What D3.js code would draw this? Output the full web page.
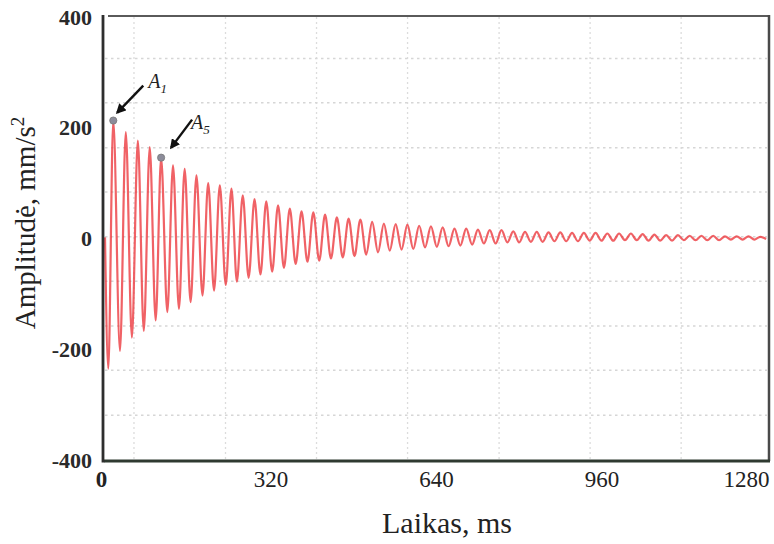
<!DOCTYPE html>
<html>
<head>
<meta charset="utf-8">
<script src="https://cdn.jsdelivr.net/npm/d3@7/dist/d3.min.js"></script>
<style>
  html, body { margin: 0; padding: 0; background: #fff; }
  svg { display: block; }
</style>
</head>
<body>
<svg id="chart" width="774" height="544"></svg>
<script>
// ---- data ----
const xTicks = [0, 320, 640, 960, 1280];
const xTickLabels = ["0", "320", "640", "960", "1280"];
const yTicks = [400, 200, 0, -200, -400];
const yTickLabels = ["400", "200", "0", "-200", "-400"];
const gridX = [56, 233, 409, 585, 762, 938, 1114];
const gridY = [325, 245, 164, 84, 3, -77, -158, -238, -319];

// time (ms) of each extremum of the decaying signal, and its amplitude (mm/s^2)
const sigTime = [0, 6.4, 16.0, 29.0, 40.2, 52.0, 63.5, 75.0, 86.5, 98.0, 108.5, 120.5, 131.5, 143.0, 154.0, 165.5, 176.8, 188.5, 199.5, 210.8, 222.0, 233.5, 244.5, 255.0,
  266.3, 277.7, 289.1, 300.5, 311.8, 323.2, 334.6, 346.0, 357.3, 368.7, 380.0, 391.4, 402.8, 414.2, 425.5, 436.9, 448.3, 459.7, 471.0, 482.4, 493.7, 505.1, 516.5, 527.9,
  539.2, 550.6, 562.0, 573.4, 584.7, 596.1, 607.4, 618.8, 630.2, 641.6, 652.9, 664.3, 675.7, 687.1, 698.4, 709.8, 721.1, 732.5, 743.9, 755.3, 766.6, 778.0,
  789.4, 800.8, 812.1, 823.5, 834.8, 846.2, 857.6, 869.0, 880.3, 891.7, 903.1, 914.5, 925.8, 937.2, 948.5, 959.9, 971.3, 982.7, 994.0, 1005.4, 1016.8, 1028.2,
  1039.5, 1050.9, 1062.2, 1073.6, 1085.0, 1096.4, 1107.7, 1119.1, 1130.5, 1141.9, 1153.2, 1164.6, 1175.9, 1187.3, 1198.7, 1210.1, 1221.4, 1232.8, 1244.2, 1255.6,
  1266.9, 1278.3];
const sigValue = [2, -235, 213, -203, 192, -179, 177, -167, 165, -148, 146, -133, 132, -127, 126, -115, 114, -103, 100, -94, 96, -84, 90, -78,
  78, -71, 71, -65, 67, -60, 60, -53, 54, -46, 49, -42, 47, -40, 43, -36, 38, -34, 36, -32, 34, -29, 30, -25,
  27, -22, 26, -20, 25, -19, 23, -16, 22, -15, 20, -14, 18, -13, 18, -11, 16, -9, 15, -9, 15, -7,
  13, -7, 12, -6, 12, -6, 11, -5, 11, -5, 10, -5, 10, -4, 10, -4, 9, -4, 9, -3, 9, -3,
  8, -4, 7, -4, 6, -4, 6, -3, 5, -3, 5, -3, 5, -3, 4, -2, 4, -2, 4, -2,
  3, -1];

const annotations = [
  { label: "A", sub: "1", index: 2, tail: [30, -35], tip: [4, -8], text: [35, -33] },
  { label: "A", sub: "5", index: 10, tail: [31, -38], tip: [10, -10], text: [30, -29] }
];

// ---- layout ----
const svg = d3.select("#chart");
const x = d3.scaleLinear().domain([0, 1280]).range([105, 767]);
const y = d3.scaleLinear().domain([-400, 400]).range([460, 17]);
const serif = "'Liberation Serif', 'Times New Roman', serif";

// defs: arrow head
svg.append("defs").append("marker")
  .attr("id", "arrow").attr("viewBox", "0 0 10 10")
  .attr("refX", 8).attr("refY", 5)
  .attr("markerWidth", 4.2).attr("markerHeight", 4.2)
  .attr("orient", "auto")
  .append("path").attr("d", "M0,0 L10,5 L0,10 Z").attr("fill", "#111");

// grid
const grid = svg.append("g");
grid.selectAll("line.gx").data(gridX).enter().append("line")
  .attr("x1", d => x(d)).attr("x2", d => x(d))
  .attr("y1", y(400)).attr("y2", y(-400))
  .attr("stroke", "#dcdcdc").attr("stroke-width", 1.3).attr("stroke-dasharray", "2,3");
grid.selectAll("line.gy").data(gridY).enter().append("line")
  .attr("x1", x(0)).attr("x2", x(1280))
  .attr("y1", d => y(d)).attr("y2", d => y(d))
  .attr("stroke", "#d6d6d6").attr("stroke-width", 1.5).attr("stroke-dasharray", "2.5,3.5");

// signal
const pts = sigTime.map((t, i) => [t, sigValue[i]]);
const line = d3.line().x(d => x(d[0])).y(d => y(d[1])).curve(d3.curveMonotoneX);
svg.append("path").datum(pts)
  .attr("d", line)
  .attr("fill", "none")
  .attr("stroke", "#ec3b40")
  .attr("stroke-opacity", 0.8)
  .attr("stroke-width", 2.2)
  .attr("stroke-linejoin", "round");

// frame
const fr = svg.append("g");
fr.append("line").attr("x1", x(0) + 3).attr("x2", x(1280) + 3).attr("y1", y(400) - 1).attr("y2", y(400) - 1)
  .attr("stroke", "#5a5a5a").attr("stroke-width", 2);
fr.append("line").attr("x1", x(1280) + 2).attr("x2", x(1280) + 2).attr("y1", y(400) - 2).attr("y2", y(-400) + 1)
  .attr("stroke", "#4a4a4a").attr("stroke-width", 2.5);
fr.append("line").attr("x1", x(0) - 1).attr("x2", x(1280) + 3).attr("y1", y(-400) + 1).attr("y2", y(-400) + 1)
  .attr("stroke", "#2f3a31").attr("stroke-width", 3);
fr.append("line").attr("x1", x(0) - 2).attr("x2", x(0) - 2).attr("y1", y(400) - 2).attr("y2", y(-400) + 2.5)
  .attr("stroke", "#2e2e2e").attr("stroke-width", 2.8);

// axes (labels only; the frame draws the lines)
const yAxis = svg.append("g").attr("transform", `translate(${x(0) - 2},0)`)
  .call(d3.axisLeft(y).tickValues(yTicks).tickSize(0).tickPadding(11)
    .tickFormat((d, i) => yTickLabels[i]));
yAxis.select(".domain").remove();
yAxis.selectAll("text").attr("font-family", serif).attr("font-size", 22)
  .attr("font-weight", "bold").attr("fill", "#2a2a2a");

const xAxis = svg.append("g").attr("transform", `translate(0,${y(-400) + 1})`)
  .call(d3.axisBottom(x).tickValues(xTicks).tickSize(0).tickPadding(10)
    .tickFormat((d, i) => xTickLabels[i]));
xAxis.select(".domain").remove();
xAxis.selectAll("text").attr("font-family", serif).attr("font-size", 23)
  .attr("fill", "#222");
xAxis.selectAll(".tick").filter(d => d === 1280).select("text").attr("text-anchor", "end").attr("dx", 2);
xAxis.selectAll(".tick").filter(d => d === 0).select("text").attr("font-weight", "bold").attr("dx", -4);

// titles
svg.append("text")
  .attr("x", 447).attr("y", 533)
  .attr("text-anchor", "middle")
  .attr("font-family", serif).attr("font-size", 30).attr("fill", "#222")
  .text("Laikas, ms");

const yt = svg.append("text")
  .attr("transform", "translate(35,223) rotate(-90)")
  .attr("text-anchor", "middle")
  .attr("font-family", serif).attr("font-size", 29).attr("fill", "#222");
yt.append("tspan").text("Amplitudė, mm/s");
yt.append("tspan").attr("font-size", 19).attr("dy", -11).text("2");

// annotations
const ann = svg.append("g");
annotations.forEach(a => {
  const px = x(sigTime[a.index]), py = y(sigValue[a.index]);
  ann.append("line")
    .attr("x1", px + a.tail[0]).attr("y1", py + a.tail[1])
    .attr("x2", px + a.tip[0]).attr("y2", py + a.tip[1])
    .attr("stroke", "#111").attr("stroke-width", 2.4)
    .attr("marker-end", "url(#arrow)");
  ann.append("circle").attr("cx", px).attr("cy", py).attr("r", 3.6)
    .attr("fill", "#8c8c9a").attr("stroke", "#777").attr("stroke-width", 0.8);
  const t = ann.append("text")
    .attr("x", px + a.text[0]).attr("y", py + a.text[1])
    .attr("font-family", serif).attr("font-style", "italic")
    .attr("font-size", 20).attr("fill", "#222");
  t.append("tspan").text(a.label);
  t.append("tspan").attr("font-size", 13).attr("dy", 5).text(a.sub);
});
</script>
</body>
</html>
